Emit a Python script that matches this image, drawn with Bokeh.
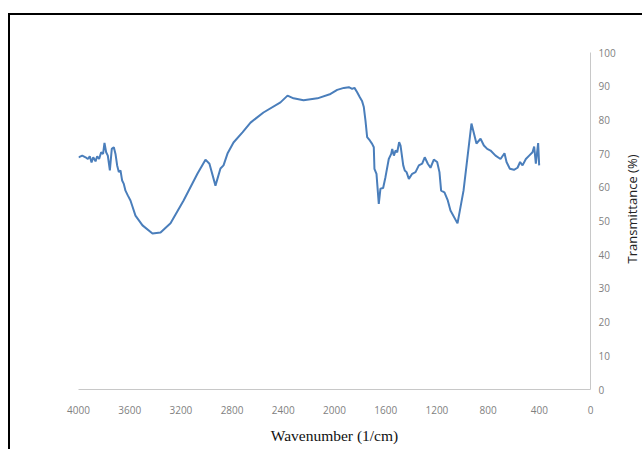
from bokeh.plotting import figure
from bokeh.models import Range1d, FixedTicker, LinearAxis
from bokeh.layouts import row
from bokeh.embed import file_html
from bokeh.resources import INLINE

wavenumber = [4000, 3971, 3945, 3927, 3912, 3898, 3885, 3867, 3854, 3839, 3823, 3808, 3797, 3784,
              3771, 3755, 3740, 3724, 3711, 3698, 3685, 3672, 3659, 3646, 3633, 3615, 3594, 3581,
              3555, 3500, 3422, 3359, 3281, 3180, 3070, 3008, 2977, 2930, 2891, 2867, 2836, 2789,
              2719, 2656, 2555, 2422, 2367, 2320, 2242, 2133, 2031, 1979, 1927, 1888, 1862, 1844,
              1823, 1802, 1784, 1771, 1758, 1745, 1724, 1706, 1693, 1688, 1672, 1654, 1641, 1620,
              1602, 1576, 1557, 1549, 1536, 1523, 1510, 1495, 1484, 1463, 1451, 1437, 1419, 1393,
              1367, 1341, 1315, 1295, 1271, 1250, 1224, 1198, 1180, 1167, 1141, 1115, 1094, 1039,
              992, 930, 891, 859, 833, 807, 781, 742, 703, 672, 656, 630, 598, 570, 550, 531, 505,
              479, 453, 440, 427, 409, 401]
transmittance = [68.9, 69.4, 68.9, 68.4, 69.2, 67.4, 68.9, 67.7, 69.2, 68.4, 70.4, 69.9, 73.2, 70.4,
                 69.4, 65.0, 71.4, 71.9, 69.9, 66.5, 64.5, 65.0, 62.0, 61.0, 59.0, 57.6, 56.1, 54.6,
                 51.6, 48.7, 46.3, 46.6, 49.3, 56.0, 64.1, 68.2, 67.0, 60.5, 65.6, 66.5, 70.0, 73.3,
                 76.3, 79.2, 82.2, 85.2, 87.2, 86.4, 85.8, 86.4, 87.7, 88.9, 89.5, 89.7, 89.2, 89.5,
                 88.2, 86.7, 85.5, 83.8, 79.8, 74.9, 73.9, 72.9, 71.9, 65.5, 64.0, 55.1, 59.6, 59.8,
                 63.0, 68.4, 69.9, 71.4, 69.4, 70.9, 70.4, 73.4, 72.4, 66.5, 65.0, 64.5, 62.5, 64.0,
                 64.5, 66.5, 67.0, 68.9, 67.0, 65.8, 68.2, 67.5, 64.5, 59.0, 58.5, 56.1, 53.1, 49.3,
                 59.0, 78.9, 73.0, 74.4, 72.4, 71.4, 70.9, 69.4, 68.4, 70.1, 67.5, 65.5, 65.2, 65.8,
                 67.5, 66.5, 68.4, 69.4, 70.4, 72.1, 67.0, 73.1, 66.5]

x_ticks = [4000, 3600, 3200, 2800, 2400, 2000, 1600, 1200, 800, 400, 0]
y_ticks = [0, 10, 20, 30, 40, 50, 60, 70, 80, 90, 100]
x_title = "Wavenumber (1/cm)"
y_title = "Transmittance (%)"

p = figure(width=608, height=434, output_backend="svg", toolbar_location=None,
           x_range=Range1d(4000, 0), y_range=Range1d(0, 100),
           x_axis_location=None, y_axis_location=None,
           min_border_left=68, min_border_right=28, min_border_top=37, min_border_bottom=60)
p.outline_line_color = None
p.grid.visible = False

p.line(wavenumber, transmittance, line_color="#4a7ebb", line_width=2)

xa = LinearAxis(ticker=FixedTicker(ticks=x_ticks))
ya = LinearAxis(ticker=FixedTicker(ticks=y_ticks))
for ax in (xa, ya):
    ax.axis_line_color = "#c8c8c8"
    ax.axis_line_width = 1
    ax.major_tick_out = 0
    ax.major_tick_in = 0
    ax.minor_tick_out = 0
    ax.minor_tick_in = 0
    ax.major_tick_line_color = None
    ax.minor_tick_line_color = None
    ax.major_label_text_color = "#7f7f7f"
    ax.major_label_text_font = "Open Sans"
    ax.major_label_text_font_size = "10px"
xa.major_label_standoff = 16
ya.major_label_standoff = 8
xa.axis_label = x_title
xa.axis_label_text_font = "Liberation Serif"
xa.axis_label_text_font_style = "normal"
xa.axis_label_text_font_size = "15.5px"
xa.axis_label_text_color = "#111111"
xa.axis_label_standoff = 10
p.add_layout(xa, "below")
p.add_layout(ya, "right")

# narrow companion panel that carries the y-axis title (reads bottom-to-top)
t = figure(width=24, height=410, output_backend="svg", toolbar_location=None,
           x_range=Range1d(0, 1), y_range=Range1d(0, 100),
           x_axis_location=None, y_axis_location=None,
           min_border_left=22, min_border_right=0, min_border_top=37, min_border_bottom=60)
t.outline_line_color = None
t.grid.visible = False
t.scatter([0.5], [50], size=0, alpha=0)
ta = LinearAxis(ticker=FixedTicker(ticks=[]))
ta.axis_line_color = None
ta.major_tick_out = 0
ta.major_tick_in = 0
ta.minor_tick_out = 0
ta.minor_tick_in = 0
ta.axis_label = y_title
ta.axis_label_text_font = "Open Sans"
ta.axis_label_text_font_style = "normal"
ta.axis_label_text_font_size = "13px"
ta.axis_label_text_color = "#222222"
ta.axis_label_standoff = 0
t.add_layout(ta, "left")

layout = row(p, t, spacing=0)
layout.styles = {"margin-left": "8px", "margin-top": "13px",
                 "border-left": "2px solid black", "border-top": "2px solid black"}

open("out.html", "w").write(file_html(layout, INLINE))
